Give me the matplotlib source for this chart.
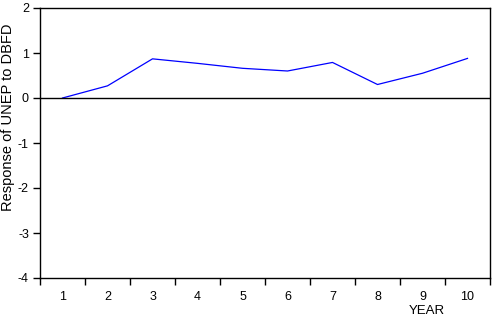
import numpy as np
import matplotlib
matplotlib.use("Agg")
import matplotlib.pyplot as plt

plt.rcParams['font.family'] = ['Liberation Sans', 'DejaVu Sans']

# impulse response
years = [1, 2, 3, 4, 5, 6, 7, 8, 9, 10]
response = [0.0, 0.27, 0.87, 0.77, 0.66, 0.60, 0.79, 0.30, 0.55, 0.88]
yticks = [-4, -3, -2, -1, 0, 1, 2]

fig = plt.figure(figsize=(4.92, 3.17), dpi=100)
ax = fig.add_axes([40/492, 39/317, 450/492, 270/317])

ax.plot(years, response, color='#0000ff', lw=0.9)
ax.axhline(0, color='black', lw=1.0)

ax.set_xlim(0.5, 10.5)
ax.set_ylim(-4, 2)

# ticks sit between the years, labels centred on the years
ax.set_xticks(np.arange(0.5, 11, 1))
ax.set_xticklabels([])
ax.set_xticks(years, minor=True)
ax.set_xticklabels([str(y) for y in years], minor=True)
ax.tick_params(axis='x', which='major', length=5, width=1, direction='out')
ax.tick_params(axis='x', which='minor', length=0, pad=9, labelsize=9)

ax.set_yticks(yticks)
ax.set_yticklabels([str(v) for v in yticks])
ax.tick_params(axis='y', length=5, width=1, direction='out', labelsize=9, pad=3)

for s in ax.spines.values():
    s.set_linewidth(1.0)

ax.set_ylabel('Response of UNEP to DBFD', fontsize=10.5)
ax.yaxis.set_label_coords(-0.056, 0.596)
ax.set_xlabel('YEAR', fontsize=9.5)
ax.xaxis.set_label_coords(0.86, -0.10)

fig.savefig('out.png', dpi=100)
